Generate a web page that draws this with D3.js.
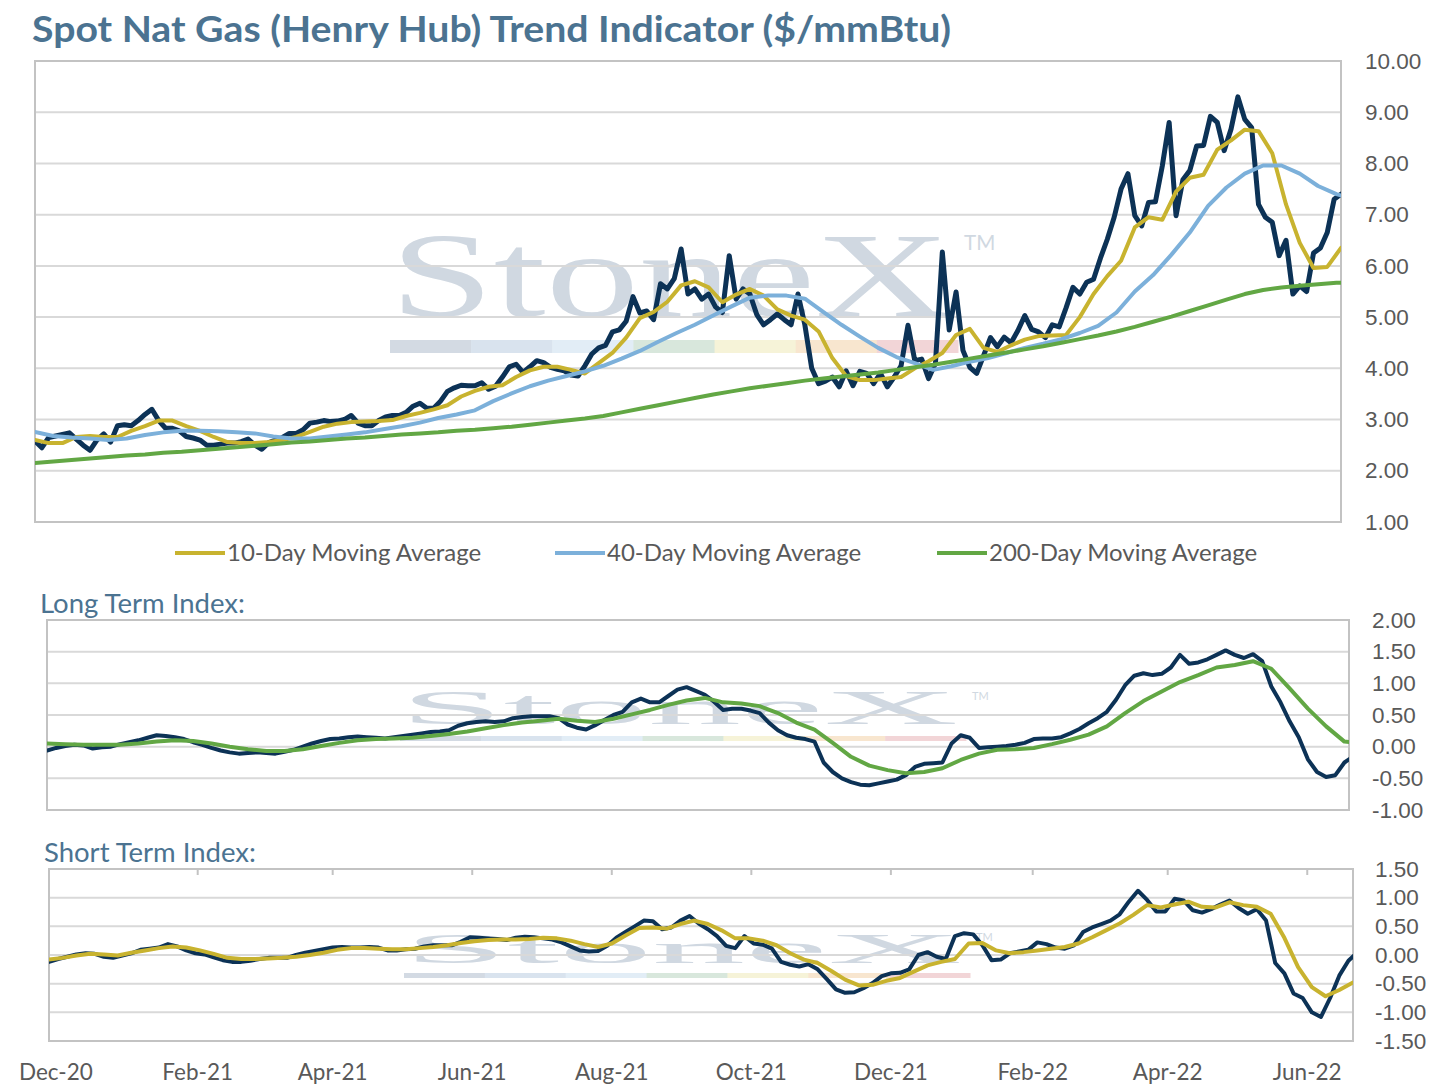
<!DOCTYPE html>
<html>
<head>
<meta charset="utf-8">
<style>
body { margin: 0; background: #fff; }
svg { display: block; font-family: Lato, "Open Sans", sans-serif; }
.axis .domain { display: none; }
.axis text { fill: #595959; font-size: 22.5px; }
</style>
</head>
<body>
<svg id="chart" width="1434" height="1087"></svg>
<script src="https://cdnjs.cloudflare.com/ajax/libs/d3/7.8.5/d3.min.js"></script>
<script>
// first sample on 28 Nov 2020, one value every `step` days
var startDate = new Date(2020, 10, 28),
    endDate = d3.timeDay.offset(startDate, 570);

// spot Henry Hub, every 3 days
var spot = [2.58,2.45,2.65,2.68,2.71,2.74,2.62,2.50,2.40,2.60,2.72,2.56,2.88,2.90,2.88,2.98,3.10,3.20,2.98,2.83,
  2.83,2.78,2.67,2.64,2.60,2.50,2.50,2.52,2.54,2.54,2.57,2.62,2.50,2.42,2.55,2.60,2.65,2.73,2.73,2.80,
  2.93,2.95,2.98,2.96,2.97,3.00,3.08,2.93,2.88,2.88,2.98,3.05,3.08,3.08,3.14,3.26,3.32,3.22,3.22,3.36,
  3.55,3.62,3.67,3.66,3.66,3.72,3.59,3.65,3.83,4.03,4.08,3.92,4.03,4.15,4.11,4.02,3.98,3.95,3.87,3.85,
  4.05,4.28,4.40,4.45,4.71,4.75,4.92,5.40,5.08,5.12,4.95,5.65,5.55,5.75,6.33,5.45,5.55,5.35,5.45,5.20,
  5.09,6.20,5.35,5.55,5.45,5.05,4.85,4.95,5.06,4.95,4.85,5.45,4.85,4.00,3.70,3.75,3.83,3.64,3.95,3.66,
  3.94,3.90,3.70,3.90,3.64,3.83,4.05,4.84,4.15,4.18,3.80,4.10,6.27,4.75,5.49,4.35,4.02,3.90,4.25,4.60,
  4.42,4.61,4.50,4.74,5.03,4.76,4.71,4.60,4.85,4.81,5.18,5.58,5.45,5.68,5.74,6.15,6.52,6.95,7.50,7.80,
  6.98,6.78,7.24,7.25,7.95,8.80,6.98,7.68,7.86,8.34,8.35,8.92,8.80,8.25,8.67,9.30,8.86,8.70,7.20,6.95,
  6.85,6.20,6.50,5.45,5.61,5.50,6.25,6.35,6.65,7.30,7.40];

// 10-day moving average, every 6 days
var ma10 = [2.60,2.54,2.54,2.66,2.68,2.66,2.66,2.78,2.87,2.98,2.98,2.87,2.78,2.66,2.56,2.54,2.54,2.56,2.60,2.66,
  2.76,2.86,2.92,2.95,2.96,2.97,2.99,3.07,3.13,3.20,3.28,3.45,3.56,3.64,3.67,3.83,3.96,4.03,4.03,3.97,
  3.90,4.10,4.30,4.60,4.98,5.10,5.30,5.62,5.70,5.58,5.29,5.44,5.55,5.42,5.15,5.03,4.95,4.72,4.20,3.85,
  3.77,3.77,3.80,3.83,4.00,4.14,4.30,4.65,4.77,4.40,4.32,4.45,4.56,4.63,4.64,4.65,5.00,5.45,5.80,6.10,
  6.75,6.95,6.90,7.45,7.72,7.78,8.27,8.45,8.66,8.63,8.20,7.20,6.45,5.96,5.98,6.35];

// 40-day moving average, every 8 days
var ma40 = [2.76,2.68,2.65,2.63,2.60,2.63,2.70,2.75,2.78,2.78,2.77,2.75,2.73,2.67,2.63,2.63,2.67,2.71,2.75,2.81,
  2.87,2.94,3.03,3.10,3.18,3.36,3.51,3.65,3.76,3.85,3.94,4.05,4.19,4.34,4.52,4.69,4.85,5.03,5.21,5.38,
  5.42,5.42,5.36,5.10,4.85,4.62,4.40,4.22,4.10,3.97,4.04,4.13,4.20,4.30,4.40,4.48,4.57,4.69,4.83,5.09,
  5.50,5.82,6.22,6.65,7.17,7.53,7.80,7.96,7.96,7.80,7.56,7.40,7.30];

// 200-day moving average, every 8 days
var ma200 = [2.15,2.18,2.21,2.24,2.27,2.30,2.32,2.35,2.37,2.40,2.43,2.46,2.49,2.52,2.55,2.57,2.60,2.63,2.65,2.68,
  2.71,2.73,2.75,2.78,2.80,2.83,2.86,2.90,2.94,2.98,3.02,3.07,3.14,3.21,3.28,3.35,3.42,3.49,3.55,3.61,
  3.66,3.71,3.76,3.80,3.84,3.88,3.92,3.97,4.02,4.07,4.13,4.19,4.25,4.31,4.37,4.43,4.50,4.57,4.64,4.72,
  4.81,4.91,5.01,5.12,5.23,5.34,5.45,5.53,5.58,5.61,5.64,5.67,5.68];

// long term index, every 4 days
var longIdx = [-0.06,-0.02,0.01,0.03,0.02,-0.03,-0.01,0.00,0.04,0.07,0.10,0.14,0.18,0.17,0.15,0.12,0.07,0.03,-0.02,-0.06,
  -0.09,-0.11,-0.10,-0.09,-0.10,-0.11,-0.08,-0.05,0.00,0.05,0.09,0.12,0.13,0.15,0.16,0.15,0.14,0.13,0.15,0.17,
  0.19,0.21,0.23,0.24,0.26,0.33,0.37,0.39,0.40,0.39,0.40,0.45,0.47,0.48,0.48,0.48,0.45,0.35,0.30,0.27,
  0.34,0.42,0.50,0.55,0.70,0.76,0.70,0.70,0.80,0.90,0.94,0.88,0.82,0.71,0.58,0.60,0.60,0.57,0.53,0.38,
  0.26,0.18,0.14,0.12,0.08,-0.25,-0.40,-0.50,-0.56,-0.60,-0.61,-0.58,-0.55,-0.52,-0.45,-0.32,-0.27,-0.26,-0.25,0.05,
  0.18,0.14,-0.02,-0.01,0.00,0.01,0.03,0.06,0.12,0.13,0.13,0.15,0.21,0.28,0.37,0.45,0.55,0.74,0.97,1.12,
  1.16,1.13,1.15,1.25,1.45,1.31,1.33,1.38,1.45,1.52,1.45,1.40,1.46,1.35,0.95,0.70,0.40,0.15,-0.20,-0.40,
  -0.48,-0.45,-0.25,-0.15];

// long term signal, every 8 days
var longSig = [0.05,0.04,0.03,0.03,0.03,0.05,0.08,0.10,0.09,0.05,0.00,-0.04,-0.07,-0.07,-0.04,0.01,0.06,0.10,0.12,0.13,
  0.14,0.17,0.20,0.24,0.29,0.34,0.38,0.41,0.44,0.41,0.39,0.44,0.51,0.58,0.66,0.73,0.77,0.70,0.68,0.64,
  0.53,0.38,0.27,0.06,-0.16,-0.30,-0.37,-0.42,-0.40,-0.34,-0.21,-0.11,-0.05,-0.04,-0.02,0.04,0.11,0.19,0.32,0.53,
  0.72,0.87,1.02,1.13,1.25,1.29,1.35,1.23,0.92,0.60,0.32,0.08,0.05];

// short term index, every 4 days
var shortIdx = [-0.12,-0.07,-0.03,0.01,0.03,0.02,-0.03,-0.05,-0.01,0.03,0.09,0.11,0.13,0.19,0.15,0.08,0.03,0.01,-0.04,-0.09,
  -0.12,-0.12,-0.10,-0.07,-0.05,-0.05,-0.05,0.00,0.04,0.07,0.10,0.13,0.14,0.13,0.13,0.14,0.13,0.08,0.08,0.10,
  0.11,0.15,0.17,0.17,0.17,0.23,0.31,0.30,0.29,0.28,0.26,0.30,0.32,0.31,0.29,0.27,0.22,0.15,0.08,0.06,
  0.07,0.16,0.30,0.40,0.50,0.60,0.59,0.45,0.48,0.60,0.68,0.55,0.45,0.33,0.16,0.12,0.33,0.20,0.18,0.11,
  -0.12,-0.17,-0.20,-0.16,-0.25,-0.42,-0.60,-0.66,-0.65,-0.58,-0.49,-0.37,-0.32,-0.31,-0.25,0.00,0.05,-0.03,-0.07,0.33,
  0.38,0.36,0.17,-0.09,-0.08,0.03,0.06,0.09,0.22,0.19,0.13,0.11,0.17,0.40,0.48,0.54,0.60,0.71,0.93,1.12,
  0.96,0.76,0.76,0.98,0.95,0.78,0.74,0.80,0.88,0.95,0.82,0.72,0.80,0.60,-0.14,-0.32,-0.67,-0.75,-1.00,-1.08,
  -0.75,-0.36,-0.10,0.05];

// short term signal, every 6 days
var shortSig = [-0.08,-0.05,-0.01,0.02,0.01,-0.01,0.04,0.08,0.12,0.15,0.13,0.08,0.02,-0.05,-0.07,-0.07,-0.06,-0.05,-0.03,0.00,
  0.04,0.09,0.12,0.12,0.11,0.10,0.10,0.12,0.14,0.17,0.21,0.24,0.26,0.27,0.27,0.28,0.30,0.29,0.25,0.19,
  0.14,0.20,0.34,0.47,0.48,0.46,0.54,0.60,0.54,0.43,0.29,0.29,0.25,0.17,0.03,-0.08,-0.14,-0.28,-0.43,-0.53,
  -0.52,-0.45,-0.40,-0.29,-0.18,-0.12,-0.07,0.20,0.21,0.08,0.03,0.05,0.08,0.11,0.14,0.20,0.31,0.43,0.55,0.70,
  0.87,0.83,0.88,0.93,0.84,0.83,0.92,0.87,0.84,0.72,0.30,-0.21,-0.56,-0.72,-0.61,-0.48];

var priceTicks = [1, 2, 3, 4, 5, 6, 7, 8, 9, 10];
var longTicks = [-1, -0.5, 0, 0.5, 1, 1.5, 2];
var shortTicks = [-1.5, -1, -0.5, 0, 0.5, 1, 1.5];
var monthTicks = ["2020-12-01", "2021-02-01", "2021-04-01", "2021-06-01", "2021-08-01",
  "2021-10-01", "2021-12-01", "2022-02-01", "2022-04-01", "2022-06-01"];
var legendNames = ["10-Day Moving Average", "40-Day Moving Average", "200-Day Moving Average"];

var navy = "#0c3256", gold = "#c8b32f", sky = "#7cb0da", green = "#62a744";
var wmColors = ["#d3dae3", "#d9e3ee", "#e2edf6", "#d8e7dc", "#f6f3d8", "#f8e6cf", "#f2d5d7"];

var svg = d3.select("#chart");
var parseDay = d3.timeParse("%Y-%m-%d");

function series(values, step) {
  return values.map(function(v, i) { return {date: d3.timeDay.offset(startDate, i * step), value: v}; });
}

function panel(id, left, right, top, bottom, ticks, labelX) {
  var x = d3.scaleTime().domain([startDate, endDate]).range([left, right]);
  var y = d3.scaleLinear().domain(d3.extent(ticks)).range([bottom, top]);
  var g = svg.append("g");

  svg.append("clipPath").attr("id", id)
    .append("rect").attr("x", left).attr("y", top).attr("width", right - left).attr("height", bottom - top);

  g.append("g").attr("class", "wm");

  g.append("g").selectAll("line")
    .data(ticks.slice(1, -1))
    .enter().append("line")
      .attr("x1", left).attr("x2", right)
      .attr("y1", function(d) { return y(d); }).attr("y2", function(d) { return y(d); })
      .attr("stroke", "#d9d9d9").attr("stroke-width", 2);

  g.append("rect")
    .attr("x", left).attr("y", top).attr("width", right - left).attr("height", bottom - top)
    .attr("fill", "none").attr("stroke", "#c3c3c3").attr("stroke-width", 2);

  g.append("g")
    .attr("class", "axis")
    .attr("transform", "translate(" + labelX + ",0)")
    .call(d3.axisRight(y).tickValues(ticks).tickSize(0).tickPadding(0)
      .tickFormat(function(d) { return d.toFixed(2); }));

  var lines = g.append("g").attr("clip-path", "url(#" + id + ")");
  return {x: x, y: y, g: g, lines: lines};
}

function watermark(p, left, right, capTop, base, barTop, barH, tmY) {
  var wm = p.g.select(".wm");
  var fs = (base - capTop) / 0.66;
  wm.append("text")
    .attr("x", left).attr("y", base)
    .attr("font-family", "Liberation Serif, serif")
    .attr("font-size", fs)
    .attr("textLength", right - left)
    .attr("lengthAdjust", "spacingAndGlyphs")
    .attr("fill", "#d0d8e1")
    .text("StoneX");
  wm.append("text")
    .attr("x", right + 14).attr("y", tmY)
    .attr("font-size", Math.max(11, fs * 0.17))
    .attr("fill", "#d0d8e1")
    .text("TM");
  var segW = (right + 8 - left) / wmColors.length;
  wm.selectAll("rect").data(wmColors).enter().append("rect")
    .attr("x", function(d, i) { return left + i * segW; })
    .attr("y", barTop).attr("width", segW + 0.5).attr("height", barH)
    .attr("fill", function(d) { return d; });
}

function drawLine(p, data, color, width) {
  var line = d3.line()
    .x(function(d) { return p.x(d.date); })
    .y(function(d) { return p.y(d.value); });
  p.lines.append("path")
    .datum(data)
    .attr("d", line)
    .attr("fill", "none")
    .attr("stroke", color)
    .attr("stroke-width", width)
    .attr("stroke-linejoin", "round")
    .attr("stroke-linecap", "round");
}

// title
svg.append("text")
  .attr("x", 32).attr("y", 42)
  .attr("font-size", 37).attr("font-weight", "bold")
  .attr("fill", "#4b7391")
  .attr("textLength", 919)
  .attr("lengthAdjust", "spacingAndGlyphs")
  .text("Spot Nat Gas (Henry Hub) Trend Indicator ($/mmBtu)");

// price panel
var p1 = panel("clip1", 35, 1341, 61, 522, priceTicks, 1365);
watermark(p1, 390, 950, 236, 316, 340, 13, 250);
drawLine(p1, series(spot, 3), navy, 5);
drawLine(p1, series(ma10, 6), gold, 4);
drawLine(p1, series(ma40, 8), sky, 4);
drawLine(p1, series(ma200, 8), green, 4);

var legend = svg.append("g")
  .selectAll("g")
  .data(legendNames)
  .enter().append("g")
    .attr("transform", function(d, i) { return "translate(" + [175, 555, 937][i] + ",553)"; });

legend.append("line")
  .attr("x1", 0).attr("x2", 50)
  .attr("stroke", function(d, i) { return [gold, sky, green][i]; })
  .attr("stroke-width", 4);

legend.append("text")
  .attr("x", 52).attr("dy", "0.35em")
  .attr("font-size", 24).attr("fill", "#595959")
  .text(function(d) { return d; });

// long term panel
svg.append("text")
  .attr("x", 40).attr("y", 613)
  .attr("font-size", 27.5).attr("fill", "#4b7391")
  .text("Long Term Index:");

var p2 = panel("clip2", 47, 1349, 620, 810, longTicks, 1372);
watermark(p2, 400, 958, 692, 724, 736, 5, 700);
drawLine(p2, series(longIdx, 4), navy, 4);
drawLine(p2, series(longSig, 8), green, 4);

// short term panel
svg.append("text")
  .attr("x", 44).attr("y", 862)
  .attr("font-size", 27.5).attr("fill", "#4b7391")
  .text("Short Term Index:");

var p3 = panel("clip3", 49, 1353, 869, 1041, shortTicks, 1375);
watermark(p3, 404, 962, 935, 963, 973, 5, 941);
drawLine(p3, series(shortIdx, 4), navy, 4);
drawLine(p3, series(shortSig, 6), gold, 4);

// month ticks along the top of the short term panel, labels below
var months = monthTicks.map(parseDay);
p3.g.append("g").selectAll("line")
  .data(months.slice(1))
  .enter().append("line")
    .attr("x1", function(d) { return p3.x(d); }).attr("x2", function(d) { return p3.x(d); })
    .attr("y1", 869).attr("y2", 875)
    .attr("stroke", "#c3c3c3").attr("stroke-width", 2);

svg.append("g").selectAll("text")
  .data(months)
  .enter().append("text")
    .attr("x", function(d) { return p3.x(d); })
    .attr("y", 1080)
    .attr("text-anchor", "middle")
    .attr("font-size", 22.5).attr("fill", "#595959")
    .text(d3.timeFormat("%b-%y"));
</script>
</body>
</html>
